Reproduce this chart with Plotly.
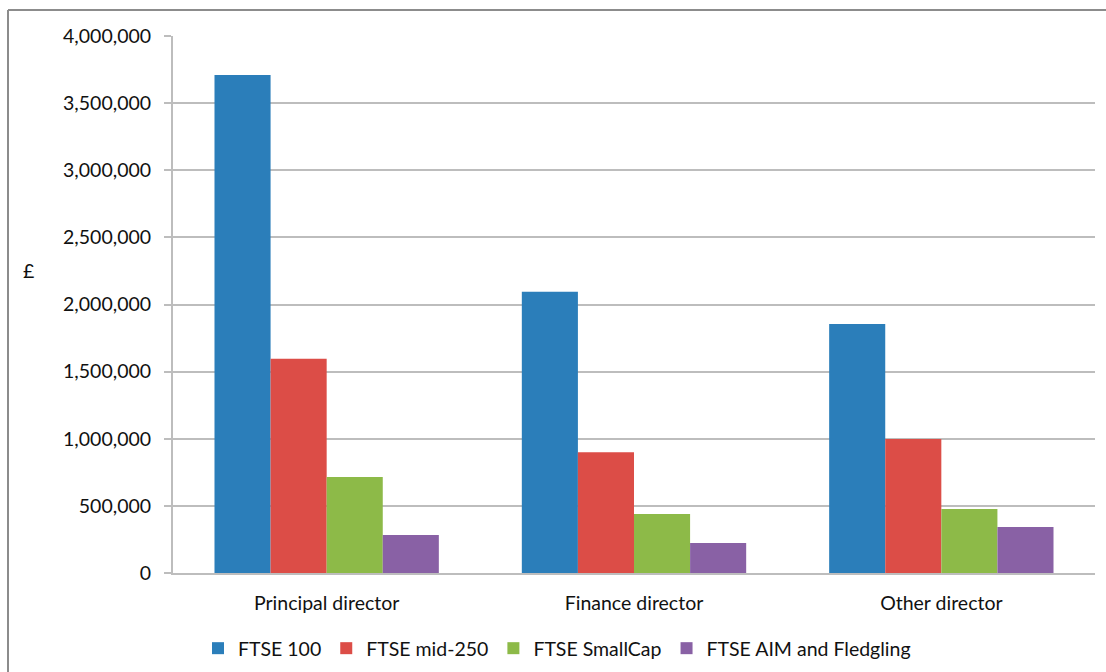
import plotly.graph_objects as go

categories = ["Principal director", "Finance director", "Other director"]
series_names = ["FTSE 100", "FTSE mid-250", "FTSE SmallCap", "FTSE AIM and Fledgling"]
ftse100 = [3710000, 2095000, 1855000]
mid250 = [1595000, 900000, 998000]
smallcap = [715000, 440000, 477000]
aim = [283000, 223000, 343000]
series_values = [ftse100, mid250, smallcap, aim]
colors = ["#2B7EBA", "#DC4D47", "#8DBA48", "#8961A5"]
tick_vals = [0, 500000, 1000000, 1500000, 2000000, 2500000, 3000000, 3500000, 4000000]
tick_text = ["0", "500,000", "1,000,000", "1,500,000", "2,000,000", "2,500,000",
             "3,000,000", "3,500,000", "4,000,000"]

W, H = 1106, 672
L, R, T, B = 173, 11, 36, 99

fig = go.Figure()
for name, vals, col in zip(series_names, series_values, colors):
    fig.add_trace(go.Bar(x=categories, y=vals, name=name, marker=dict(color=col, line=dict(width=0))))

font = "Lato, 'Open Sans', sans-serif"
pw = W - L - R
ph = H - T - B
bx = (8 - L) / pw
by = (H - B - 10) / ph

fig.update_layout(
    width=W, height=H,
    margin=dict(l=L, r=R, t=T, b=B, autoexpand=False),
    paper_bgcolor="white", plot_bgcolor="white",
    barmode="group", bargap=0.27, bargroupgap=0,
    font=dict(family=font, size=19.5, color="#111111"),
    showlegend=True,
    legend=dict(orientation="h", x=(198 - L) / pw, xanchor="left",
                y=-(629 - (H - B)) / ph, yanchor="top", bgcolor="rgba(0,0,0,0)",
                font=dict(size=19.5), itemwidth=30, traceorder="normal"),
    xaxis=dict(showline=True, linecolor="#BDBDBD", linewidth=2, ticks="outside",
               ticklen=12, tickcolor="rgba(0,0,0,0)",
               tickfont=dict(size=19.5), showgrid=False, automargin=False),
    yaxis=dict(range=[0, 4000000], tickvals=tick_vals, ticktext=tick_text,
               showgrid=True, gridcolor="#BDBDBD", gridwidth=1.5,
               showline=True, linecolor="#BDBDBD", linewidth=2,
               ticks="outside", ticklen=7, tickcolor="#BDBDBD", tickwidth=1.5,
               ticklabelstandoff=9,
               tickfont=dict(size=19.5), zeroline=False, automargin=False),
    annotations=[dict(text="£", xref="paper", yref="paper", x=(28 - L) / pw,
                      y=(H - B - 270) / ph, xanchor="center", yanchor="middle",
                      showarrow=False, font=dict(size=19.5))],
    shapes=[
        dict(type="line", xref="paper", yref="paper", x0=bx, x1=bx, y0=-0.3, y1=by,
             line=dict(color="#8C8C8C", width=2)),
        dict(type="line", xref="paper", yref="paper", x0=bx, x1=1.05, y0=by, y1=by,
             line=dict(color="#8C8C8C", width=2)),
    ],
)

fig.write_html("out.html")
